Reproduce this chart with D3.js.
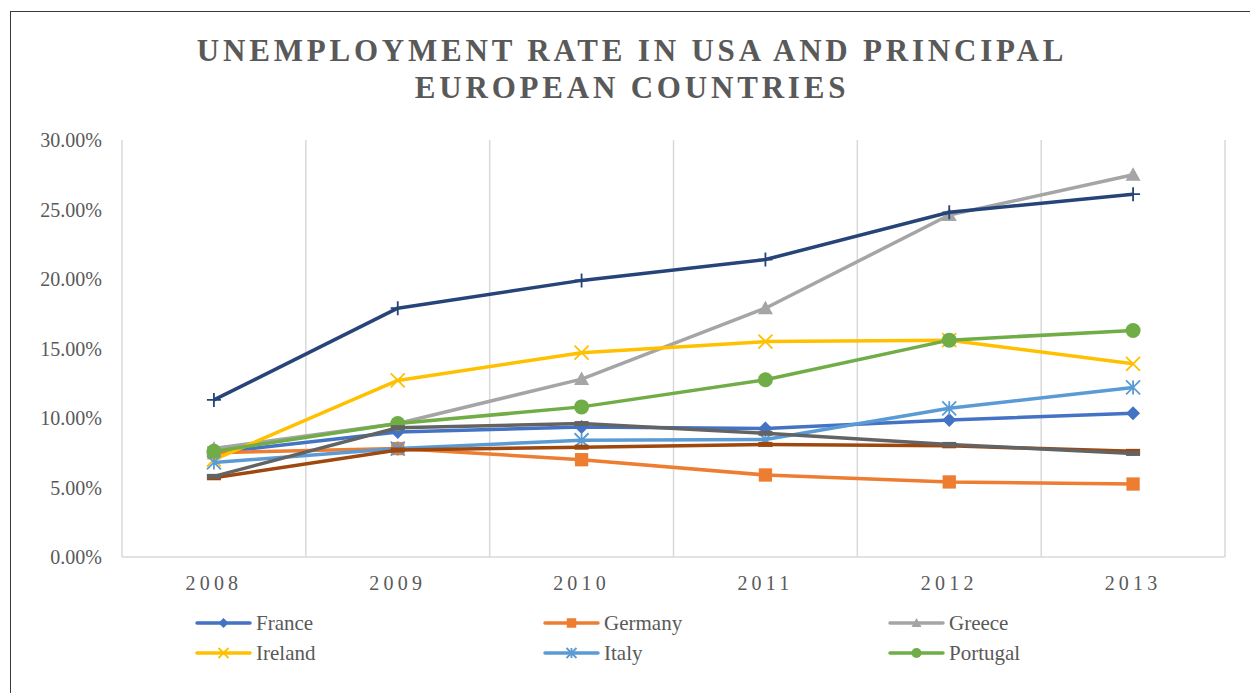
<!DOCTYPE html>
<html>
<head>
<meta charset="utf-8">
<script src="https://cdn.jsdelivr.net/npm/d3@7"></script>
<style>
  body { margin: 0; background: #fff; }
  svg { display: block; font-family: "Liberation Serif", "Times New Roman", serif; }
</style>
</head>
<body>
<div id="chart"></div>
<script>
const W = 1250, H = 693;
const margin = { top: 140, right: 25, bottom: 136, left: 122 };

const years = ["2008", "2009", "2010", "2011", "2012", "2013"];
const yTicks = [0, 5, 10, 15, 20, 25, 30];

// unemployment rate, percent
const france   = [7.5, 9.0, 9.35, 9.25, 9.85, 10.35];
const germany  = [7.5, 7.8, 7.0, 5.9, 5.4, 5.25];
const greece   = [7.8, 9.6, 12.8, 17.9, 24.6, 27.5];
const ireland  = [7.0, 12.7, 14.7, 15.5, 15.6, 13.9];
const italy    = [6.8, 7.8, 8.4, 8.45, 10.7, 12.2];
const portugal = [7.6, 9.6, 10.8, 12.75, 15.6, 16.3];
const spain    = [11.3, 17.9, 19.9, 21.4, 24.8, 26.1];
const uk       = [5.7, 7.7, 7.9, 8.1, 8.0, 7.6];
const usa      = [5.8, 9.3, 9.6, 8.9, 8.1, 7.45];

const series = [
  { name: "France",   values: france,   color: "#4472C4", marker: "diamond" },
  { name: "Germany",  values: germany,  color: "#ED7D31", marker: "square" },
  { name: "Greece",   values: greece,   color: "#A5A5A5", marker: "triangle" },
  { name: "Ireland",  values: ireland,  color: "#FFC000", marker: "x" },
  { name: "Italy",    values: italy,    color: "#5B9BD5", marker: "star" },
  { name: "Portugal", values: portugal, color: "#70AD47", marker: "circle" },
  { name: "Spain",    values: spain,    color: "#264478", marker: "plus" },
  { name: "UK",       values: uk,       color: "#9E480E", marker: "dash" },
  { name: "USA",      values: usa,      color: "#636363", marker: "dash" }
];

const width = W - margin.left - margin.right;
const height = H - margin.top - margin.bottom;

const svg = d3.select("#chart").append("svg")
  .attr("width", W)
  .attr("height", H);

// chart frame
svg.append("rect")
  .attr("x", 10.5).attr("y", 11.5)
  .attr("width", W + 20).attr("height", H + 20)
  .attr("fill", "none")
  .attr("stroke", "#3a3a3a")
  .attr("stroke-width", 1);

// title
const title = svg.append("text")
  .attr("text-anchor", "middle")
  .style("font-size", "31px")
  .style("font-weight", "bold")
  .style("letter-spacing", "3.8px")
  .attr("fill", "#595959");
title.append("tspan").attr("x", 632).attr("y", 61).text("UNEMPLOYMENT RATE IN USA AND PRINCIPAL");
title.append("tspan").attr("x", 632).attr("y", 98).text("EUROPEAN COUNTRIES");

const g = svg.append("g")
  .attr("transform", `translate(${margin.left},${margin.top})`);

const x = d3.scaleBand().domain(years).range([0, width]);
const y = d3.scaleLinear().domain([0, 30]).range([height, 0]);

// vertical gridlines on category boundaries
const bounds = years.map(d => x(d)).concat([width]);
g.selectAll(".vgrid")
  .data(bounds)
  .enter().append("line")
  .attr("class", "vgrid")
  .attr("x1", d => d).attr("x2", d => d)
  .attr("y1", 0).attr("y2", height)
  .attr("stroke", "#d9d9d9")
  .attr("stroke-width", 1.5);

// x axis line
g.append("line")
  .attr("x1", 0).attr("x2", width)
  .attr("y1", height).attr("y2", height)
  .attr("stroke", "#d9d9d9")
  .attr("stroke-width", 1.5);

// y tick labels
g.selectAll(".ytick")
  .data(yTicks)
  .enter().append("text")
  .attr("class", "ytick")
  .attr("x", -20)
  .attr("y", d => y(d))
  .attr("dy", "0.35em")
  .attr("text-anchor", "end")
  .style("font-size", "20px")
  .attr("fill", "#595959")
  .text(d => d3.format(".2f")(d) + "%");

// x tick labels
g.selectAll(".xtick")
  .data(years)
  .enter().append("text")
  .attr("class", "xtick")
  .attr("x", d => x(d) + x.bandwidth() / 2)
  .attr("y", height + 33)
  .attr("text-anchor", "middle")
  .style("font-size", "20px")
  .style("letter-spacing", "4.2px")
  .attr("fill", "#595959")
  .text(d => d);

const line = d3.line()
  .x((d, i) => x(years[i]) + x.bandwidth() / 2)
  .y(d => y(d));

function drawMarker(sel, type, color, s) {
  const r = s / 2;
  if (type === "diamond") {
    sel.append("path").attr("d", `M0,${-r}L${r},0L0,${r}L${-r},0Z`).attr("fill", color);
  } else if (type === "square") {
    sel.append("rect").attr("x", -r * 0.95).attr("y", -r * 0.95)
      .attr("width", s * 0.95).attr("height", s * 0.95).attr("fill", color);
  } else if (type === "triangle") {
    sel.append("path").attr("d", `M0,${-r}L${r},${r * 0.8}L${-r},${r * 0.8}Z`).attr("fill", color);
  } else if (type === "circle") {
    sel.append("circle").attr("r", r).attr("fill", color);
  } else if (type === "x") {
    sel.append("path").attr("d", `M${-r},${-r}L${r},${r}M${r},${-r}L${-r},${r}`)
      .attr("stroke", color).attr("stroke-width", 1.8).attr("fill", "none");
  } else if (type === "star") {
    sel.append("path").attr("d", `M${-r},${-r}L${r},${r}M${r},${-r}L${-r},${r}M0,${-r}L0,${r}`)
      .attr("stroke", color).attr("stroke-width", 1.8).attr("fill", "none");
  } else if (type === "plus") {
    sel.append("path").attr("d", `M${-r},0L${r},0M0,${-r}L0,${r}`)
      .attr("stroke", color).attr("stroke-width", 1.8).attr("fill", "none");
  } else if (type === "dash") {
    sel.append("rect").attr("x", -r).attr("y", -2.5).attr("width", s).attr("height", 5).attr("fill", color);
  }
}

const markerSize = { diamond: 14, square: 14, triangle: 15, circle: 15, x: 14, star: 14, plus: 14, dash: 14 };

series.forEach(s => {
  g.append("path")
    .datum(s.values)
    .attr("d", line)
    .attr("fill", "none")
    .attr("stroke", s.color)
    .attr("stroke-width", 3.5)
    .attr("stroke-linejoin", "round");

  g.selectAll(null)
    .data(s.values)
    .enter().append("g")
    .attr("transform", (d, i) => `translate(${x(years[i]) + x.bandwidth() / 2},${y(d)})`)
    .each(function () { drawMarker(d3.select(this), s.marker, s.color, markerSize[s.marker]); });
});

// legend: only the first two rows fit inside the chart area
const legendCols = [197, 545, 890];
const legendRows = [623, 653];
const legendItems = series.slice(0, 6);

const leg = svg.selectAll(".legend")
  .data(legendItems)
  .enter().append("g")
  .attr("class", "legend")
  .attr("transform", (d, i) => `translate(${legendCols[i % 3]},${legendRows[Math.floor(i / 3)]})`);

leg.append("line")
  .attr("x1", 0).attr("x2", 53)
  .attr("y1", 0).attr("y2", 0)
  .attr("stroke", d => d.color)
  .attr("stroke-width", 3.5)
  .attr("stroke-linecap", "round");

leg.append("g")
  .attr("transform", "translate(26.5,0)")
  .each(function (d) { drawMarker(d3.select(this), d.marker, d.color, 10); });

leg.append("text")
  .attr("x", 59)
  .attr("dy", "0.35em")
  .style("font-size", "21px")
  .attr("fill", "#595959")
  .text(d => d.name);
</script>
</body>
</html>
